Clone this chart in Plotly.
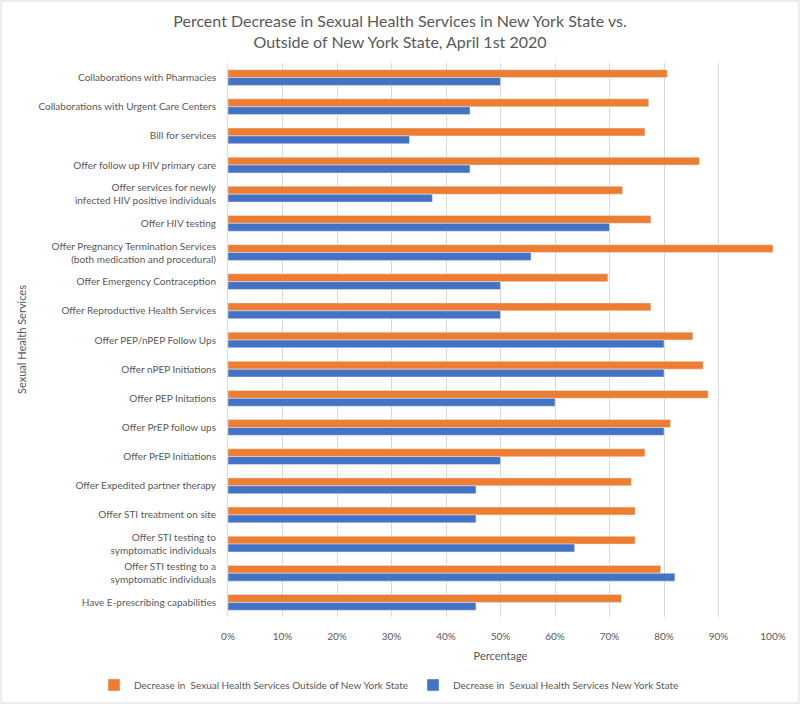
import plotly.graph_objects as go

# Services (top to bottom, as in the chart)
services = [
    "Collaborations with Pharmacies",
    "Collaborations with Urgent Care Centers",
    "Bill for services",
    "Offer follow up HIV primary care",
    "Offer services for newly<br>infected HIV positive individuals",
    "Offer HIV testing",
    "Offer Pregnancy Termination Services<br>(both medication and procedural)",
    "Offer Emergency Contraception",
    "Offer Reproductive Health Services",
    "Offer PEP/nPEP Follow Ups",
    "Offer nPEP Initiations",
    "Offer PEP Initations",
    "Offer PrEP follow ups",
    "Offer PrEP Initiations",
    "Offer Expedited partner therapy",
    "Offer STI treatment on site",
    "Offer STI testing to<br>symptomatic individuals",
    "Offer STI testing to a<br>symptomatic individuals",
    "Have E-prescribing capabilities",
]

# percent decrease outside of NY state
outside_ny = [80.6, 77.2, 76.5, 86.5, 72.4, 77.6, 100.0, 69.7, 77.6, 85.3,
              87.2, 88.1, 81.2, 76.5, 74.0, 74.7, 74.7, 79.4, 72.2]
# percent decrease in NY state
in_ny = [50.0, 44.4, 33.3, 44.4, 37.5, 70.0, 55.6, 50.0, 50.0, 80.0,
         80.0, 60.0, 80.0, 50.0, 45.5, 45.5, 63.6, 82.0, 45.5]

x_ticks = [0, 10, 20, 30, 40, 50, 60, 70, 80, 90, 100]
x_ticklabels = [str(t) + "%" for t in x_ticks]

FONT = "Lato, Calibri, Carlito, sans-serif"
GREY = "#595959"

W, H = 800, 704
ml, mr, mt, mb = 228, 27, 63, 87
pw = W - ml - mr
ph = H - mt - mb

fig = go.Figure()

fig.add_trace(go.Bar(
    y=services, x=outside_ny, orientation="h",
    name="Decrease in  Sexual Health Services Outside of New York State",
    marker=dict(color="#ED7D31"),
))
fig.add_trace(go.Bar(
    y=services, x=in_ny, orientation="h",
    name="Decrease in  Sexual Health Services New York State",
    marker=dict(color="#4472C4"),
))

fig.update_layout(
    width=W, height=H,
    margin=dict(l=ml, r=mr, t=mt, b=mb, autoexpand=False),
    paper_bgcolor="white", plot_bgcolor="white",
    font=dict(family=FONT, color=GREY, size=10),
    barmode="group",
    bargap=0.46,
    bargroupgap=0,
    title=dict(
        text="Percent Decrease in Sexual Health Services in New York State vs.<br>Outside of New York State, April 1st 2020",
        x=0.5, xanchor="center", y=0.962, yanchor="top",
        font=dict(size=16, color=GREY, family=FONT),
    ),
    # below the plot, anchored left of it so the whole row fits on one line
    legend=dict(
        orientation="h", x=(94 - ml) / pw, xanchor="left",
        y=-(685 - (H - mb)) / ph, yanchor="middle",
        font=dict(size=10, color=GREY), traceorder="normal",
        itemwidth=30,
    ),
    showlegend=True,
)

fig.update_xaxes(
    range=[0, 100], tickvals=x_ticks, ticktext=x_ticklabels,
    showgrid=True, gridcolor="#D9D9D9", gridwidth=1,
    zeroline=False, showline=False, ticks="",
    tickfont=dict(size=10, color=GREY), ticklabelstandoff=12,
    title=dict(text="Percentage", font=dict(size=11, color=GREY), standoff=11),
)
fig.update_yaxes(
    autorange="reversed", showgrid=False, ticks="",
    showline=True, linecolor="#D9D9D9", linewidth=1,
    tickfont=dict(size=10, color=GREY), ticklabelstandoff=9,
)

# y axis title
fig.add_annotation(
    text="Sexual Health Services", textangle=-90,
    xref="paper", yref="paper", x=-(ml - 21) / pw, y=0.5,
    xanchor="center", yanchor="middle", showarrow=False,
    font=dict(size=11, color=GREY),
)

# chart border
fig.add_shape(
    type="rect", xref="paper", yref="paper",
    x0=-(ml - 1) / pw, x1=1 + (mr - 1) / pw,
    y0=-(mb - 1) / ph, y1=1 + (mt - 1) / ph,
    line=dict(color="#D9D9D9", width=1), layer="below",
)

fig.write_html("out.html", config={"displayModeBar": False},
               post_script="document.body.style.margin='0';")
